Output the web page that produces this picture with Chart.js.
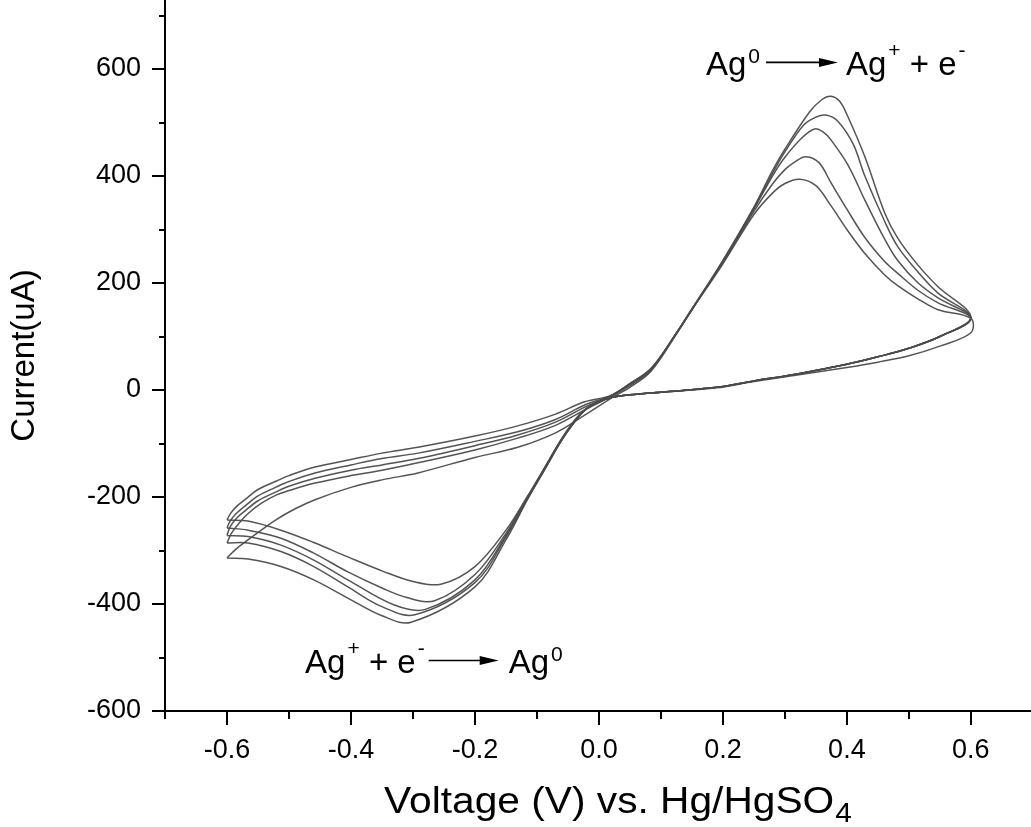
<!DOCTYPE html>
<html><head><meta charset="utf-8">
<script src="https://cdn.jsdelivr.net/npm/chart.js@4/dist/chart.umd.min.js"></script>
<style>html,body{margin:0;padding:0;background:#fff;overflow:hidden}#wrap{width:1031px;height:827px;position:relative}</style>
</head><body><div id="wrap"><canvas id="c" width="1031" height="827"></canvas></div>
<script>
const FONT = '"Liberation Sans", Arial, Helvetica, sans-serif';

// ---- cycle 1 (smallest peaks) ----
const c1V = [-0.6,-0.595,-0.585,-0.57,-0.55,-0.52,-0.5,-0.458,-0.4,-0.35,-0.292,-0.2,-0.131,-0.07,-0.023,0.02,0.05,0.084,0.127,0.15,0.2,0.25,0.28,0.3,0.324,0.35,0.374,0.4,0.429,0.461,0.482,0.515,0.547,0.6,
             0.6,0.55,0.5,0.45,0.4,0.32,0.25,0.19,0.1,0.05,0.02,0.0,-0.023,-0.04,-0.061,-0.087,-0.115,-0.15,-0.2,-0.255,-0.3,-0.35,-0.405,-0.46,-0.513,-0.566,-0.6];
const c1I = [-243,-232,-218,-204,-186,-170,-160,-144,-130,-118,-107,-86,-67,-45,-22,-10,12,40,110,150,236,328,368,386,394,382,345,300,255,215,195,170,150,134,
             107,82,64,52,42,28,16,4,-4,-9,-14,-22,-37,-58,-93,-144,-198,-262,-330,-363,-358,-338,-312,-285,-262,-245,-243];
// ---- cycle 2 ----
const c2V = [-0.6,-0.595,-0.585,-0.57,-0.55,-0.52,-0.5,-0.458,-0.4,-0.35,-0.292,-0.2,-0.131,-0.07,-0.023,0.02,0.05,0.084,0.127,0.15,0.2,0.25,0.28,0.3,0.318,0.334,0.355,0.374,0.4,0.429,0.461,0.482,0.515,0.547,0.6,
             0.55,0.5,0.45,0.4,0.32,0.25,0.19,0.1,0.05,0.02,0.0,-0.023,-0.04,-0.061,-0.087,-0.115,-0.15,-0.2,-0.265,-0.31,-0.35,-0.405,-0.46,-0.513,-0.566,-0.6];
const c2I = [-258,-245,-231,-216,-198,-181,-171,-155,-140,-128,-118,-96,-78,-55,-28,-10,12,40,110,151,238,334,385,412,428,436,425,388,338,285,240,218,186,163,134,
             100,78,62,48,30,17,5,-4,-9,-14,-22,-37,-58,-93,-144,-200,-268,-345,-394,-388,-370,-340,-305,-277,-262,-258];
// ---- cycle 3 ----
const c3V = [-0.6,-0.595,-0.585,-0.57,-0.55,-0.52,-0.5,-0.458,-0.4,-0.35,-0.292,-0.2,-0.131,-0.07,-0.023,0.02,0.05,0.084,0.127,0.15,0.2,0.25,0.28,0.3,0.328,0.348,0.362,0.374,0.402,0.429,0.461,0.482,0.515,0.547,0.6,
             0.55,0.5,0.45,0.4,0.32,0.25,0.19,0.1,0.05,0.02,0.0,-0.023,-0.04,-0.061,-0.087,-0.115,-0.15,-0.2,-0.28,-0.33,-0.405,-0.46,-0.513,-0.566,-0.6];
const c3I = [-272,-256,-240,-225,-207,-190,-180,-165,-150,-140,-128,-104,-84,-60,-32,-10,10,38,110,150,240,338,400,435,472,488,482,468,420,355,282,242,200,172,134,
             100,78,62,48,30,17,5,-4,-9,-14,-22,-38,-60,-94,-146,-202,-272,-355,-410,-402,-355,-318,-290,-274,-272];
// ---- cycle 4 ----
const c4V = [-0.6,-0.593,-0.58,-0.565,-0.545,-0.52,-0.5,-0.458,-0.4,-0.35,-0.292,-0.2,-0.131,-0.07,-0.023,0.02,0.05,0.084,0.127,0.15,0.2,0.25,0.28,0.3,0.33,0.35,0.366,0.385,0.41,0.429,0.461,0.482,0.515,0.547,0.6,
             0.55,0.5,0.45,0.4,0.32,0.25,0.19,0.1,0.05,0.02,0.0,-0.023,-0.04,-0.061,-0.087,-0.115,-0.15,-0.2,-0.297,-0.35,-0.405,-0.46,-0.513,-0.566,-0.6];
const c4I = [-286,-268,-248,-230,-212,-196,-188,-174,-160,-150,-136,-112,-90,-66,-37,-12,8,38,110,152,242,340,405,445,495,510,514,503,460,400,315,268,220,181,135,
             100,78,62,48,30,17,5,-4,-9,-14,-22,-38,-61,-95,-147,-203,-275,-360,-420,-405,-368,-330,-302,-286,-286];
// ---- cycle 5 (largest peaks) ----
const c5V = [-0.6,-0.585,-0.56,-0.523,-0.49,-0.458,-0.4,-0.35,-0.292,-0.2,-0.131,-0.07,-0.023,0.02,0.05,0.084,0.127,0.15,0.2,0.25,0.28,0.3,0.34,0.36,0.374,0.388,0.40,0.429,0.461,0.482,0.515,0.547,0.6,
             0.55,0.5,0.45,0.4,0.32,0.25,0.19,0.1,0.05,0.02,0.0,-0.023,-0.04,-0.061,-0.087,-0.115,-0.15,-0.2,-0.303,-0.35,-0.405,-0.46,-0.513,-0.566,-0.6];
const c5I = [-314,-297,-275,-244,-222,-205,-182,-168,-155,-126,-107,-80,-47,-15,5,35,108,150,242,342,410,450,520,543,549,540,515,436,331,284,233,193,136,
             100,78,62,48,30,17,5,-4,-9,-14,-22,-38,-61,-96,-148,-204,-280,-368,-434,-422,-389,-355,-330,-316,-314];

const xMajorTicks = [-0.6,-0.4,-0.2,0,0.2,0.4,0.6];
const xMinorTicks = [-0.7,-0.5,-0.3,-0.1,0.1,0.3,0.5];
const yMajorTicks = [-600,-400,-200,0,200,400,600];
const yMinorTicks = [-500,-300,-100,100,300,500,700];
const xTitleMain = 'Voltage (V) vs. Hg/HgSO';
const xTitleSub = '4';
const yTitle = 'Current(uA)';

function pts(vs, is){ return vs.map((v,k)=>({x:v,y:is[k]})); }
const cycles = [[c1V,c1I],[c2V,c2I],[c3V,c3I],[c4V,c4I],[c5V,c5I]];
const LINE = 'rgba(75,75,75,0.95)';

// equation annotations: anchor in data coordinates (left of text, baseline)
const annTop = {v:0.1726, i:589, parts:[{t:'Ag'},{sup:'0',raise:12},{gap:6},{arrow:72},{gap:8},{t:'Ag'},{sup:'+',raise:18},{t:' + e'},{sup:'-',raise:18}]};
const annBot = {v:-0.474, i:-529, parts:[{t:'Ag'},{sup:'+',raise:18},{t:' + e'},{sup:'-',raise:18},{gap:4},{arrow:70},{gap:10},{t:'Ag'},{sup:'0',raise:12}]};

function drawEq(ctx, x, base, parts){
  ctx.fillStyle = '#000'; ctx.strokeStyle = '#000';
  ctx.textBaseline = 'alphabetic'; ctx.textAlign = 'left';
  for (const p of parts){
    if (p.t !== undefined){
      ctx.font = '33px ' + FONT;
      ctx.fillText(p.t, x, base);
      x += ctx.measureText(p.t).width;
    } else if (p.sup !== undefined){
      ctx.font = '21px ' + FONT;
      x += 2;
      ctx.fillText(p.sup, x, base - p.raise);
      x += ctx.measureText(p.sup).width;
    } else if (p.gap !== undefined){
      x += p.gap;
    } else if (p.arrow !== undefined){
      const y = base - 12.5;
      ctx.lineWidth = 1.6;
      ctx.beginPath(); ctx.moveTo(x, y); ctx.lineTo(x + p.arrow - 14, y); ctx.stroke();
      ctx.beginPath(); ctx.moveTo(x + p.arrow, y); ctx.lineTo(x + p.arrow - 19, y - 4.5); ctx.lineTo(x + p.arrow - 19, y + 4.5); ctx.closePath(); ctx.fill();
      x += p.arrow;
    }
  }
}

const decor = {
  id: 'decor',
  afterDraw(chart){
    const ctx = chart.ctx, xs = chart.scales.x, ys = chart.scales.y, ca = chart.chartArea;
    ctx.save();
    ctx.strokeStyle = '#000'; ctx.lineWidth = 2;
    const yAxis = ca.bottom, xAxis = ca.left;
    const tick = (x1,y1,x2,y2)=>{ ctx.beginPath(); ctx.moveTo(x1,y1); ctx.lineTo(x2,y2); ctx.stroke(); };
    xMajorTicks.forEach(v=>{ const p = Math.round(xs.getPixelForValue(v)); tick(p, yAxis, p, yAxis+14); });
    xMinorTicks.forEach(v=>{ const p = Math.round(xs.getPixelForValue(v)); tick(p, yAxis, p, yAxis+8); });
    yMajorTicks.forEach(v=>{ const p = Math.round(ys.getPixelForValue(v)); tick(xAxis-13, p, xAxis, p); });
    yMinorTicks.forEach(v=>{ const p = Math.round(ys.getPixelForValue(v)); tick(xAxis-6, p, xAxis, p); });
    // x title with subscript (slightly wide lettering as in the original)
    const sx = 1.1;
    ctx.fillStyle = '#000'; ctx.textBaseline = 'alphabetic'; ctx.textAlign = 'left';
    ctx.font = '37px ' + FONT; const w1 = ctx.measureText(xTitleMain).width;
    ctx.font = '27px ' + FONT; const w2 = ctx.measureText(xTitleSub).width;
    const cx = 618, base = xs.bottom - 14;
    const x0 = cx - sx * (w1 + w2 + 1) / 2;
    ctx.save(); ctx.translate(x0, base); ctx.scale(sx, 1);
    ctx.font = '37px ' + FONT; ctx.fillText(xTitleMain, 0, 0);
    ctx.font = '27px ' + FONT; ctx.fillText(xTitleSub, w1 + 1, 9);
    ctx.restore();
    // equations
    drawEq(ctx, xs.getPixelForValue(annTop.v), ys.getPixelForValue(annTop.i), annTop.parts);
    drawEq(ctx, xs.getPixelForValue(annBot.v), ys.getPixelForValue(annBot.i), annBot.parts);
    ctx.restore();
  }
};

new Chart(document.getElementById('c'), {
  type: 'scatter',
  data: { datasets: cycles.map((c,k)=>({
    label: 'Cycle ' + (k+1), data: pts(c[0], c[1]), showLine: true, fill: false,
    borderColor: LINE, borderWidth: 1.5, pointRadius: 0, tension: 0.35
  })) },
  options: {
    responsive: false, animation: false,
    layout: { padding: 0 },
    plugins: { legend: {display:false}, tooltip: {enabled:false} },
    scales: {
      x: {
        type: 'linear', min: -0.7, max: 0.697,
        grid: { display: false }, border: { display: true, color: '#000', width: 2 },
        ticks: { stepSize: 0.2, includeBounds: false, autoSkip: false, maxRotation: 0, color: '#000',
                 font: { family: FONT, size: 27 }, padding: 15,
                 callback: v => Math.abs(v) < 1e-9 ? '0.0' : Number(v).toFixed(1) },
        afterFit: s => { s.height = 116; s.paddingLeft = 0; s.paddingRight = 0; }
      },
      y: {
        type: 'linear', min: -600, max: 729,
        grid: { display: false }, border: { display: true, color: '#000', width: 2 },
        ticks: { stepSize: 200, includeBounds: false, color: '#000', font: { family: FONT, size: 27 }, padding: 16,
                 callback: v => String(v) },
        title: { display: true, text: yTitle, color: '#000', font: { family: FONT, size: 33 }, padding: { top: 5, bottom: 0 } },
        afterFit: s => { s.width = 165; s.paddingTop = 0; s.paddingBottom = 0; }
      }
    }
  },
  plugins: [decor]
});
</script></body></html>
